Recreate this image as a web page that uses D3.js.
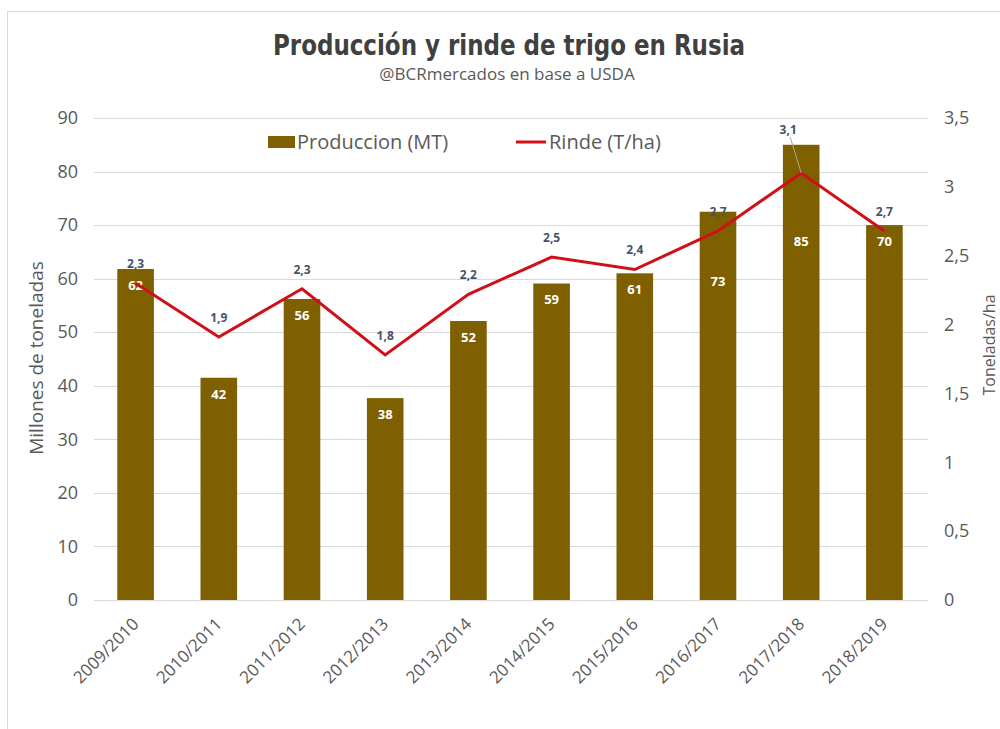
<!DOCTYPE html>
<html>
<head>
<meta charset="utf-8">
<script src="https://cdn.jsdelivr.net/npm/d3@7"></script>
<style>
  body { margin: 0; background: #fff; }
  svg { display: block; }
</style>
</head>
<body>
<div id="chart"></div>
<script>
// Wheat production and yield in Russia

const campaigns = ['2009/2010', '2010/2011', '2011/2012', '2012/2013', '2013/2014',
                   '2014/2015', '2015/2016', '2016/2017', '2017/2018', '2018/2019'];
const produccion = [61.8, 41.5, 56.2, 37.7, 52.1, 59.1, 61.0, 72.5, 85.0, 70.0];
const rinde = [2.3, 1.91, 2.26, 1.78, 2.22, 2.49, 2.40, 2.68, 3.10, 2.68];
const leftTicks = [0, 10, 20, 30, 40, 50, 60, 70, 80, 90];
const rightTicks = [0, 0.5, 1, 1.5, 2, 2.5, 3, 3.5];

const width = 1000;
const height = 729;
const margin = { top: 118, right: 74, bottom: 129, left: 94 };

const barColor = '#7f6000';
const lineColor = '#d01018';
const textGray = '#595959';
const fontMain = "'Open Sans', 'Liberation Sans', sans-serif";

const svg = d3.select('#chart')
    .append('svg')
    .attr('width', width)
    .attr('height', height);

// outer frame of the chart area
svg.append('rect')
    .attr('x', 7.5)
    .attr('y', 11.5)
    .attr('width', width)
    .attr('height', height)
    .attr('fill', 'none')
    .attr('stroke', '#d9d9d9');

const x = d3.scaleBand()
    .domain(campaigns)
    .range([margin.left, width - margin.right])
    .paddingInner(0.56)
    .paddingOuter(0.28);

const yLeft = d3.scaleLinear()
    .domain([0, 90])
    .range([height - margin.bottom, margin.top]);

const yRight = d3.scaleLinear()
    .domain([0, 3.5])
    .range([height - margin.bottom, margin.top]);

const cx = i => x(campaigns[i]) + x.bandwidth() / 2;

// gridlines
svg.append('g')
    .selectAll('line')
    .data(leftTicks)
    .enter()
    .append('line')
    .attr('x1', margin.left)
    .attr('x2', width - margin.right + 2)
    .attr('y1', d => Math.round(yLeft(d)) + 0.5)
    .attr('y2', d => Math.round(yLeft(d)) + 0.5)
    .attr('stroke', '#d9d9d9')
    .attr('stroke-width', 1);

// left axis
const leftAxis = svg.append('g')
    .attr('transform', `translate(${margin.left}, 0)`)
    .call(d3.axisLeft(yLeft).tickValues(leftTicks).tickSize(0).tickPadding(16));
leftAxis.select('.domain').remove();
leftAxis.selectAll('text')
    .style('font-family', fontMain)
    .style('font-size', '18px')
    .style('fill', textGray);

// right axis
const fmtComma = d => String(d).replace('.', ',');
const rightAxis = svg.append('g')
    .attr('transform', `translate(${width - margin.right}, 0)`)
    .call(d3.axisRight(yRight).tickValues(rightTicks).tickSize(0).tickPadding(18).tickFormat(fmtComma));
rightAxis.select('.domain').remove();
rightAxis.selectAll('text')
    .style('font-family', fontMain)
    .style('font-size', '18px')
    .style('fill', textGray);

// bottom axis labels (rotated)
const bottomAxis = svg.append('g')
    .attr('transform', `translate(0, ${height - margin.bottom})`)
    .call(d3.axisBottom(x).tickSize(0).tickPadding(0));
bottomAxis.select('.domain').remove();
bottomAxis.selectAll('text')
    .attr('text-anchor', 'end')
    .attr('y', 0)
    .attr('dy', '0.35em')
    .attr('transform', 'translate(0, 21) rotate(-45)')
    .style('font-family', fontMain)
    .style('font-size', '17px')
    .style('fill', textGray);

// bars
svg.append('g')
    .selectAll('rect')
    .data(produccion)
    .enter()
    .append('rect')
    .attr('x', (d, i) => x(campaigns[i]))
    .attr('y', d => yLeft(d))
    .attr('width', x.bandwidth())
    .attr('height', d => yLeft(0) - yLeft(d))
    .attr('fill', barColor);

// bar labels (inside end; two are pushed down to clear the line)
const barLabelDrop = i => (i === 7 ? 74 : i === 8 ? 101 : 21);
svg.append('g')
    .selectAll('text')
    .data(produccion)
    .enter()
    .append('text')
    .attr('x', (d, i) => cx(i))
    .attr('y', (d, i) => yLeft(d) + barLabelDrop(i))
    .attr('text-anchor', 'middle')
    .text(d => Math.round(d))
    .style('font-family', fontMain)
    .style('font-size', '13px')
    .style('font-weight', 'bold')
    .style('fill', '#ffffff');

// yield line
const line = d3.line()
    .x((d, i) => cx(i))
    .y(d => yRight(d));

svg.append('path')
    .datum(rinde)
    .attr('d', line)
    .attr('fill', 'none')
    .attr('stroke', lineColor)
    .attr('stroke-width', 3)
    .attr('stroke-linejoin', 'miter');

// yield labels
svg.append('g')
    .selectAll('text')
    .data(rinde)
    .enter()
    .append('text')
    .attr('x', (d, i) => cx(i) - (i === 8 ? 13 : 0))
    .attr('y', (d, i) => yRight(d) - (i === 8 ? 39 : 15))
    .attr('text-anchor', 'middle')
    .text(d => d.toFixed(1).replace('.', ','))
    .style('font-family', fontMain)
    .style('font-size', '12px')
    .style('font-weight', 'bold')
    .style('fill', '#44546a');

// leader line for the 2017/2018 label
svg.append('line')
    .attr('x1', cx(8) - 11)
    .attr('y1', yRight(rinde[8]) - 36)
    .attr('x2', cx(8))
    .attr('y2', yRight(rinde[8]))
    .attr('stroke', '#a6a6a6')
    .attr('stroke-width', 1);

// titles
svg.append('text')
    .attr('x', 509)
    .attr('y', 55)
    .attr('text-anchor', 'middle')
    .attr('textLength', 472)
    .attr('lengthAdjust', 'spacingAndGlyphs')
    .text('Producción y rinde de trigo en Rusia')
    .style('font-family', "'DejaVu Sans Condensed', 'Liberation Sans Narrow', sans-serif")
    .style('font-size', '29px')
    .style('font-weight', 'bold')
    .style('fill', '#404040');

svg.append('text')
    .attr('x', 507)
    .attr('y', 80)
    .attr('text-anchor', 'middle')
    .text('@BCRmercados en base a USDA')
    .style('font-family', fontMain)
    .style('font-size', '17px')
    .style('fill', textGray);

// axis titles
svg.append('text')
    .attr('transform', 'translate(43, 358) rotate(-90)')
    .attr('text-anchor', 'middle')
    .text('Millones de toneladas')
    .style('font-family', fontMain)
    .style('font-size', '19px')
    .style('fill', textGray);

svg.append('text')
    .attr('transform', 'translate(995, 345) rotate(-90)')
    .attr('text-anchor', 'middle')
    .text('Toneladas/ha')
    .style('font-family', fontMain)
    .style('font-size', '16px')
    .style('fill', textGray);

// legend
const legend = svg.append('g');
legend.append('rect')
    .attr('x', 268)
    .attr('y', 136)
    .attr('width', 27)
    .attr('height', 12)
    .attr('fill', barColor);
legend.append('text')
    .attr('x', 297)
    .attr('y', 149)
    .text('Produccion (MT)')
    .style('font-family', fontMain)
    .style('font-size', '20px')
    .style('fill', textGray);
legend.append('line')
    .attr('x1', 516)
    .attr('x2', 546)
    .attr('y1', 142)
    .attr('y2', 142)
    .attr('stroke', lineColor)
    .attr('stroke-width', 3);
legend.append('text')
    .attr('x', 549)
    .attr('y', 149)
    .text('Rinde (T/ha)')
    .style('font-family', fontMain)
    .style('font-size', '20px')
    .style('fill', textGray);
</script>
</body>
</html>
